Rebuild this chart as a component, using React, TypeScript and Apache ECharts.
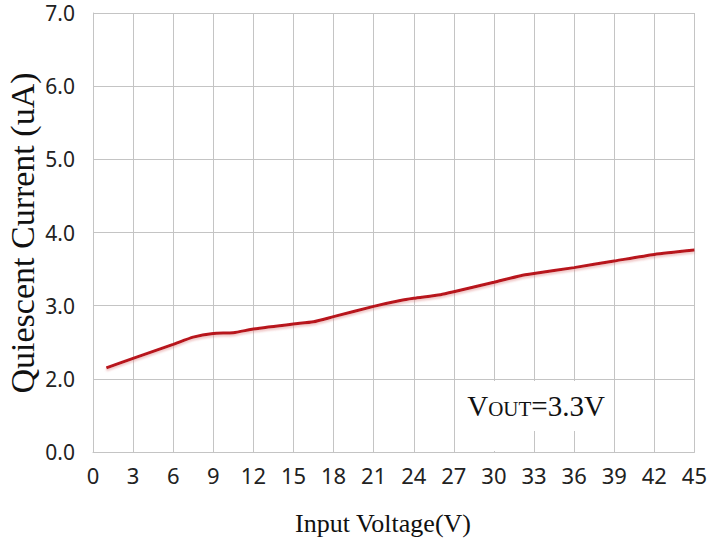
import React, { useEffect, useRef } from "react";
import * as echarts from "echarts";

const inputVoltage = [1, 3, 6, 7.5, 9, 10.5, 12, 15, 16.5, 18, 21, 23, 24, 26, 27, 30, 32, 33, 36, 39, 42, 45];
const quiescentCurrent = [2.15, 2.28, 2.47, 2.57, 2.62, 2.63, 2.68, 2.75, 2.78, 2.85, 2.99, 3.07, 3.1, 3.15, 3.19, 3.32, 3.41, 3.44, 3.52, 3.61, 3.7, 3.76];
const yTickValues = [1, 2, 3, 4, 5, 6, 7];
const yTickLabels = ["0.0", "2.0", "3.0", "4.0", "5.0", "6.0", "7.0"];
const xTitle = "Input Voltage(V)";
const yTitle = "Quiescent Current (uA)";

export default function App() {
  const ref = useRef<HTMLDivElement>(null);
  useEffect(() => {
    if (!ref.current) return;
    const chart = echarts.init(ref.current, undefined, { renderer: "svg" });
    const grey = "#c4c4c4";
    chart.setOption({
      animation: false,
      backgroundColor: "#ffffff",
      grid: { left: 93, right: 12, top: 13, bottom: 89, containLabel: false },
      xAxis: {
        type: "value",
        min: 0,
        max: 45,
        interval: 3,
        axisLine: { show: true, lineStyle: { color: grey, width: 1 } },
        axisTick: { show: false },
        splitLine: { show: true, lineStyle: { color: grey, width: 1 } },
        axisLabel: {
          color: "#222",
          fontFamily: "Noto Sans",
          fontSize: 22,
          margin: 12,
          showMinLabel: true,
          showMaxLabel: true,
        },
      },
      yAxis: {
        type: "value",
        min: 1,
        max: 7,
        interval: 1,
        axisLine: { show: true, lineStyle: { color: grey, width: 1 } },
        axisTick: { show: false },
        splitLine: { show: true, lineStyle: { color: grey, width: 1 } },
        axisLabel: {
          color: "#222",
          fontFamily: "Noto Sans",
          fontSize: 21,
          margin: 18,
          formatter: (v: number) => {
            const i = yTickValues.indexOf(Math.round(v));
            return i >= 0 ? yTickLabels[i] : "";
          },
        },
      },
      series: [
        {
          type: "line",
          data: inputVoltage.map((x, i) => [x, quiescentCurrent[i]]),
          showSymbol: false,
          smooth: 0.2,
          lineStyle: {
            color: "#b8121c",
            width: 3,
            shadowColor: "rgba(220,120,120,0.45)",
            shadowBlur: 2,
            shadowOffsetY: 2,
          },
          z: 5,
        },
      ],
      graphic: [
        {
          type: "rect",
          z: 100,
          shape: { x: 478, y: 381, width: 128, height: 50 },
          style: { fill: "#ffffff" },
        },
        {
          type: "rect",
          z: 100,
          shape: { x: 488, y: 430, width: 10, height: 21 },
          style: { fill: "#ffffff" },
        },
        {
          type: "text",
          z: 101,
          x: 536,
          y: 406,
          style: {
            text: "{a|V}{b|OUT}{a|=3.3V}",
            align: "center",
            verticalAlign: "middle",
            fill: "#111",
            rich: {
              a: { fontFamily: "Liberation Serif", fontSize: 29, fill: "#111" },
              b: { fontFamily: "Liberation Serif", fontSize: 21, fill: "#111", padding: [6, 0, 0, 0] },
            },
          },
        },
        {
          type: "text",
          z: 101,
          x: 383,
          y: 523,
          style: {
            text: xTitle,
            align: "center",
            verticalAlign: "middle",
            fontFamily: "Liberation Serif",
            fontSize: 26,
            fill: "#111",
          },
        },
        {
          type: "text",
          z: 101,
          x: 22,
          y: 233,
          rotation: Math.PI / 2,
          style: {
            text: yTitle,
            align: "center",
            verticalAlign: "middle",
            fontFamily: "Liberation Serif",
            fontSize: 34,
            fill: "#111",
          },
        },
      ],
    });
    return () => chart.dispose();
  }, []);
  return (
    <div
      ref={ref}
      style={{ position: "absolute", left: 0, top: 0, width: 710, height: 541 }}
    />
  );
}
